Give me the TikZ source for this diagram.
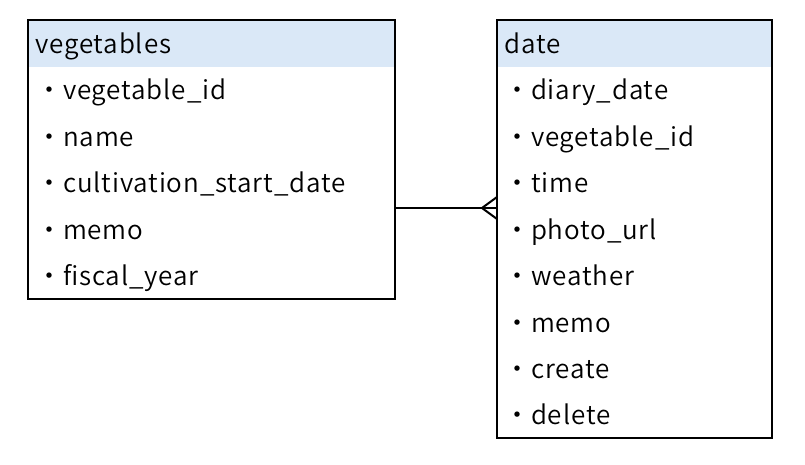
\documentclass[tikz,border=0pt]{standalone}
\usepackage{fontspec}
\setmainfont{Noto Sans CJK JP}[UprightFont=* DemiLight, LetterSpace=3.3]
\usetikzlibrary{calc}
\definecolor{headblue}{RGB}{218,232,247}
\tikzset{
	tab/.style={draw, line width=2pt, inner sep=0pt, outer sep=0pt, anchor=north west},
	field/.style={anchor=base west, inner sep=0pt, font=\fontsize{26}{26}\selectfont},
}

\begin{document}
\begin{tikzpicture}[x=1pt, y=-1pt]
\useasboundingbox (0,0) rectangle (805,465);
% headers
\fill[headblue] (28,20) rectangle (395,67);
\fill[headblue] (497,20) rectangle (772,67);
% tables
\node[tab, minimum width=367pt, minimum height=279pt] (vegetables) at (28,20) {};
\node[tab, minimum width=275pt, minimum height=418pt] (date) at (497,20) {};
\node[field] (vegname) at (35,54) {vegetables};
\node[field] (datename) at (504,54) {date};
\foreach \t [count=\i] in {vegetable\_id, name, cultivation\_start\_date, memo, fiscal\_year}
	\node[field] (veg\i) at (36,{100+46.4*(\i-1)}) {・\t};
\foreach \t [count=\i] in {diary\_date, vegetable\_id, time, photo\_url, weather, memo, create, delete}
	\node[field] (date\i) at (504,{100+46.4*(\i-1)}) {・\t};
% relation
\coordinate (rel) at (0,208);
\coordinate (foot) at ($(date.west |- rel)+(-15,0)$);
\draw[line width=2pt] (vegetables.east |- rel) -- (date.west |- rel);
\draw[line width=2pt] ($(date.west |- rel)+(0,-11)$) -- (foot) -- ($(date.west |- rel)+(0,11)$);
\end{tikzpicture}
\end{document}
